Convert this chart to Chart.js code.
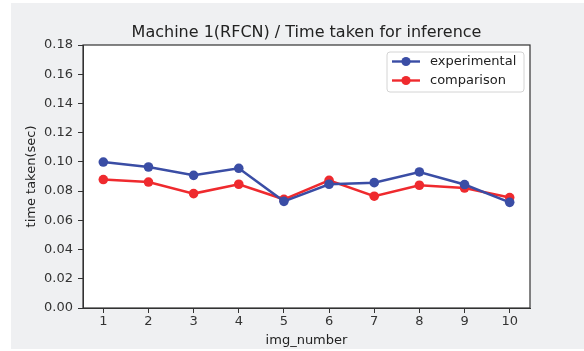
<!DOCTYPE html>
<html>
<head>
<meta charset="utf-8">
<script src="https://cdn.jsdelivr.net/npm/chart.js@4.4.1/dist/chart.umd.min.js"></script>
<style>
  html, body { margin: 0; padding: 0; background: #ffffff; }
  #wrap { width: 584px; height: 351px; }
</style>
</head>
<body>
<div id="wrap"><canvas id="chart1"></canvas></div>
<script>
"use strict";

var imgNumbers = [1, 2, 3, 4, 5, 6, 7, 8, 9, 10];
var experimental = [0.0999, 0.0965, 0.0908, 0.0956, 0.0730, 0.0847, 0.0858, 0.0931, 0.0845, 0.0723];
var comparison = [0.0879, 0.0862, 0.0783, 0.0847, 0.0744, 0.0874, 0.0765, 0.0840, 0.0821, 0.0756];
var yTicks = [0, 0.02, 0.04, 0.06, 0.08, 0.10, 0.12, 0.14, 0.16, 0.18];

var BLUE = "#3a4da5";
var RED = "#ef2a2e";
var FONT = "'DejaVu Sans', sans-serif";

// figure background, white axes face, frame, title and legend
var decor = {
  id: "decor",
  beforeDraw: function(chart) {
    var ctx = chart.ctx, a = chart.chartArea;
    ctx.save();
    ctx.fillStyle = "#ffffff";
    ctx.fillRect(0, 0, chart.width, chart.height);
    ctx.fillStyle = "#eff0f2";
    ctx.fillRect(11, 3, chart.width - 11, chart.height - 5);
    ctx.fillStyle = "#ffffff";
    ctx.fillRect(a.left, a.top, a.right - a.left, a.bottom - a.top);
    ctx.restore();
  },
  afterDraw: function(chart) {
    var ctx = chart.ctx, a = chart.chartArea;
    ctx.save();
    ctx.strokeStyle = "#333333";
    ctx.lineWidth = 1.2;
    ctx.strokeRect(a.left, a.top, a.right - a.left, a.bottom - a.top);

    ctx.fillStyle = "#222222";
    ctx.font = "16px " + FONT;
    ctx.textAlign = "center";
    ctx.textBaseline = "middle";
    ctx.fillText("Machine 1(RFCN) / Time taken for inference", (a.left + a.right) / 2, 33);

    // legend box in the upper right corner
    var bx = 387, by = 52, bw = 137, bh = 40;
    ctx.beginPath();
    ctx.roundRect(bx, by, bw, bh, 3);
    ctx.fillStyle = "rgba(255,255,255,0.85)";
    ctx.fill();
    ctx.strokeStyle = "#d4d4d4";
    ctx.lineWidth = 1;
    ctx.stroke();

    var items = [
      { label: "experimental", color: BLUE, y: 61.5 },
      { label: "comparison", color: RED, y: 80.5 }
    ];
    items.forEach(function(it) {
      ctx.strokeStyle = it.color;
      ctx.lineWidth = 2.4;
      ctx.beginPath();
      ctx.moveTo(392, it.y);
      ctx.lineTo(420, it.y);
      ctx.stroke();
      ctx.fillStyle = it.color;
      ctx.beginPath();
      ctx.arc(406, it.y, 4.6, 0, Math.PI * 2);
      ctx.fill();
      ctx.fillStyle = "#222222";
      ctx.font = "13px " + FONT;
      ctx.textAlign = "left";
      ctx.fillText(it.label, 430, it.y);
    });
    ctx.restore();
  }
};

function toPoints(values) {
  return values.map(function(v, i) {
    return { x: imgNumbers[i], y: v };
  });
}

var tickFont = { family: FONT, size: 13 };

var chart = new Chart(document.getElementById("chart1"), {
  type: "line",
  data: {
    datasets: [
      {
        label: "experimental",
        data: toPoints(experimental),
        borderColor: BLUE,
        backgroundColor: BLUE,
        borderWidth: 2.5,
        pointRadius: 4.8,
        pointHoverRadius: 4.8,
        pointBorderWidth: 0,
        tension: 0
      },
      {
        label: "comparison",
        data: toPoints(comparison),
        borderColor: RED,
        backgroundColor: RED,
        borderWidth: 2.5,
        pointRadius: 4.8,
        pointHoverRadius: 4.8,
        pointBorderWidth: 0,
        tension: 0
      }
    ]
  },
  options: {
    responsive: true,
    maintainAspectRatio: false,
    animation: false,
    layout: {
      padding: { left: 0, top: 45, right: 54, bottom: 0 }
    },
    plugins: {
      legend: { display: false },
      title: { display: false },
      tooltip: { enabled: false }
    },
    scales: {
      x: {
        type: "linear",
        min: 0.55,
        max: 10.45,
        afterBuildTicks: function(scale) {
          scale.ticks = imgNumbers.map(function(v) { return { value: v }; });
        },
        afterFit: function(scale) {
          scale.height = 43;
        },
        ticks: {
          font: tickFont,
          color: "#333333",
          padding: 1,
          autoSkip: false,
          maxRotation: 0,
          callback: function(v) { return String(v); }
        },
        grid: {
          display: true,
          drawOnChartArea: false,
          drawTicks: true,
          tickLength: 5,
          color: "#333333"
        },
        border: { display: true, color: "#333333" },
        title: {
          display: true,
          text: "img_number",
          font: tickFont,
          color: "#222222",
          padding: { top: 0, bottom: 3 }
        }
      },
      y: {
        type: "linear",
        min: 0,
        max: 0.18,
        afterBuildTicks: function(scale) {
          scale.ticks = yTicks.map(function(v) { return { value: v }; });
        },
        afterFit: function(scale) {
          scale.width = 83;
        },
        ticks: {
          font: tickFont,
          color: "#333333",
          padding: 5,
          callback: function(v) { return Number(v).toFixed(2); }
        },
        grid: {
          display: true,
          drawOnChartArea: false,
          drawTicks: true,
          tickLength: 5,
          color: "#333333"
        },
        border: { display: true, color: "#333333" },
        title: {
          display: true,
          text: "time taken(sec)",
          font: tickFont,
          color: "#222222",
          padding: { top: 24, bottom: 0 }
        }
      }
    }
  },
  plugins: [decor]
});
</script>
</body>
</html>
